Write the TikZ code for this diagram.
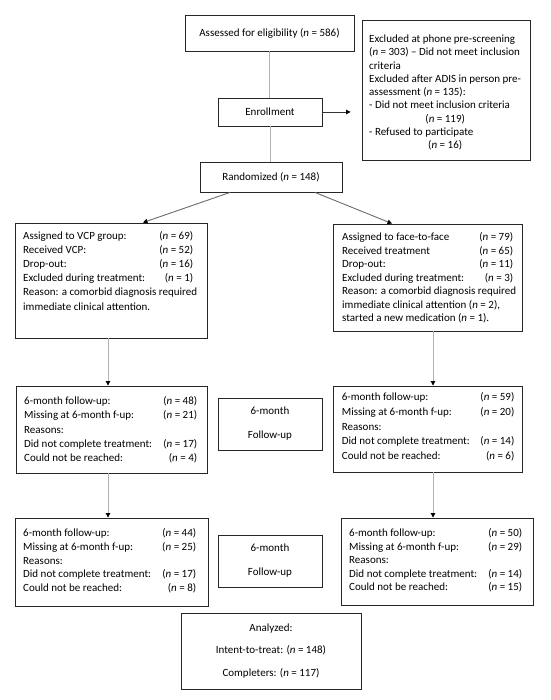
\documentclass[tikz,border=0pt]{standalone}
\usepackage{fontspec}
\setmainfont{Carlito}
\usetikzlibrary{arrows.meta}
\begin{document}
\begin{tikzpicture}[x=1pt,y=-1pt,
  box/.style={draw=black!85, line width=0.9pt, inner sep=0pt, align=center},
  txt/.style={inner sep=0pt, anchor=base west},
  conn/.style={draw=gray!60, line width=0.9pt},
  arr/.style={conn, -{Triangle[length=4.5pt,width=4.5pt,color=black]}},
  font=\fontsize{11}{13.5}\selectfont]
\fill[white] (0,0) rectangle (550,700);
\useasboundingbox (0,0) rectangle (550,700);

% boxes
\node[box, minimum width=169pt, minimum height=36pt] (assess) at (269.5,33) {Assessed for eligibility (\textit{n} = 586)};
\node[box, minimum width=168pt, minimum height=140pt] (excl) at (446,90) {};
\node[box, minimum width=104pt, minimum height=28pt] (enroll) at (270,112) {Enrollment};
\node[box, minimum width=142pt, minimum height=30pt] (rand) at (271,177) {Randomized (\textit{n} = 148)};
\node[box, minimum width=192pt, minimum height=115pt] (vcp) at (111,280.5) {};
\node[box, minimum width=189pt, minimum height=107pt] (f2f) at (427.5,277.5) {};
\node[box, minimum width=191pt, minimum height=87pt] (fuL1) at (111.5,429.5) {};
\node[box, minimum width=104pt, minimum height=52pt, font=\fontsize{11}{24}\selectfont] (fuM1) at (270,424) {6-month\\Follow-up};
\node[box, minimum width=189pt, minimum height=86pt] (fuR1) at (427.5,429) {};
\node[box, minimum width=193pt, minimum height=88pt] (fuL2) at (111.5,562) {};
\node[box, minimum width=104pt, minimum height=52pt, font=\fontsize{11}{24}\selectfont] (fuM2) at (270,561) {6-month\\Follow-up};
\node[box, minimum width=192pt, minimum height=87pt] (fuR2) at (437,561.5) {};
\node[box, minimum width=180pt, minimum height=76pt, font=\fontsize{11}{22.5}\selectfont] (anal) at (271,651) {Analyzed:\\Intent-to-treat: (\textit{n} = 148)\\Completers: (\textit{n} = 117)};

% box texts
\node[txt] (exclT) at (369,42.5) {\parbox[t]{152pt}{\fontsize{11}{13.3}\selectfont
Excluded at phone pre-screening\\
(\textit{n} = 303) -- Did not meet inclusion\\
criteria\\
Excluded after ADIS in  person pre-\\
assessment (\textit{n} = 135):\\
- Did not meet inclusion criteria\\
\null\hfill(\textit{n} = 119)\hfill\null\\
- Refused to participate\\
\null\hfill(\textit{n} = 16)\hfill\null}};

\node[txt] (vcpT) at (23,239.2) {\parbox[t]{170pt}{\fontsize{11}{14.2}\selectfont
Assigned to VCP group:\hfill(\textit{n} = 69)\\
Received VCP:\hfill(\textit{n} = 52)\\
Drop-out:\hfill(\textit{n} = 16)\\
Excluded during treatment:\hfill(\textit{n} = 1)\\
\mbox{Reason: a comorbid diagnosis required}\\
immediate clinical  attention.}};

\node[txt] (f2fT) at (342,240.5) {\parbox[t]{171pt}{\fontsize{11}{13.5}\selectfont
Assigned to face-to-face\hfill(\textit{n} = 79)\\
Received treatment\hfill(\textit{n} = 65)\\
Drop-out:\hfill(\textit{n} = 11)\\
Excluded during treatment:\hfill(\textit{n} = 3)\\
\mbox{Reason: a comorbid diagnosis required}\\
immediate clinical  attention (\textit{n} = 2),\\
started a new medication (\textit{n} = 1).}};

\node[txt] (fuL1T) at (24,404.2) {\parbox[t]{173pt}{\fontsize{11}{14.4}\selectfont
6-month follow-up:\hfill(\textit{n} = 48)\\
Missing at 6-month f-up:\hfill(\textit{n} = 21)\\
Reasons:\\
Did not complete treatment:\hfill(\textit{n} = 17)\\
Could not be reached:\hfill(\textit{n} = 4)}};

\node[txt] (fuR1T) at (341.7,400.8) {\parbox[t]{172.5pt}{\fontsize{11}{14.6}\selectfont
6-month follow-up:\hfill(\textit{n} = 59)\\
Missing at 6-month f-up:\hfill(\textit{n} =  20)\\
Reasons:\\
Did not complete treatment:\hfill(\textit{n} = 14)\\
Could not be reached:\hfill(\textit{n} = 6)}};

\node[txt] (fuL2T) at (23,536.2) {\parbox[t]{173pt}{\fontsize{11}{13.9}\selectfont
6-month follow-up:\hfill(\textit{n} = 44)\\
Missing at 6-month f-up:\hfill(\textit{n} = 25)\\
Reasons:\\
Did not complete treatment:\hfill(\textit{n} = 17)\\
Could not be reached:\hfill(\textit{n} = 8)}};

\node[txt] (fuR2T) at (349,536.8) {\parbox[t]{173pt}{\fontsize{11}{13.5}\selectfont
6-month follow-up:\hfill(\textit{n} = 50)\\
Missing at 6-month f-up:\hfill(\textit{n} = 29)\\
Reasons:\\
Did not complete treatment:\hfill(\textit{n} = 14)\\
Could not be reached:\hfill(\textit{n} = 15)}};

% connectors
\draw[conn] (assess.south) -- (assess.south |- enroll.north);
\draw[conn] (enroll.south) -- (enroll.south |- rand.north);
\draw[arr, draw=black!80, shorten >=11pt] (enroll.east) -- (enroll.east -| excl.west);
\draw[arr, draw=gray!85!black] ([xshift=-41pt]rand.south) -- ([xshift=32pt]vcp.north);
\draw[arr, draw=gray!85!black] ([xshift=44pt]rand.south) -- ([xshift=-35.5pt]f2f.north);
\draw[arr] ([xshift=-3pt]vcp.south) -- ([xshift=-3.5pt]fuL1.north);
\draw[arr] ([xshift=5.5pt]f2f.south) -- ([xshift=5.5pt]fuR1.north);
\draw[arr] ([xshift=-3.5pt]fuL1.south) -- ([xshift=-3.5pt]fuL2.north);
\draw[arr] ([xshift=5.5pt]fuR1.south) -- ([xshift=-4pt]fuR2.north);
\end{tikzpicture}
\end{document}
